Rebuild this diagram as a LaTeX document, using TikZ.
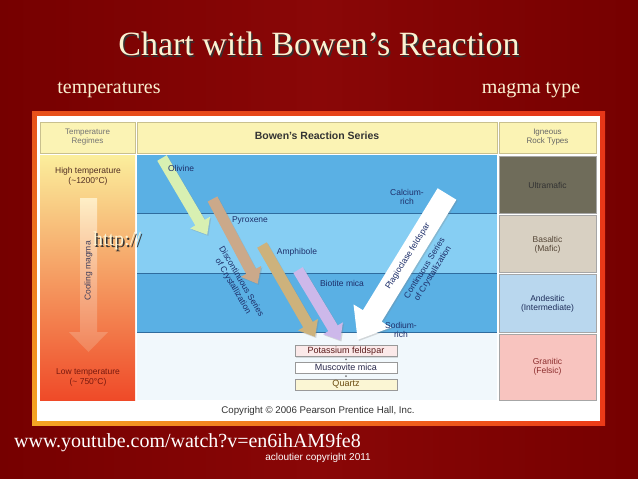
\documentclass[tikz,border=0pt]{standalone}
\usepackage{fontspec}
\setmainfont{Liberation Serif}
\setsansfont{Liberation Sans}
\usetikzlibrary{shadows,shadings}
\definecolor{bgA}{HTML}{760000}
\definecolor{bgB}{HTML}{8A0707}
\definecolor{cream}{HTML}{FBF2D2}
\definecolor{hdrY}{HTML}{FBF3B4}
\definecolor{hdrL}{HTML}{C9C08E}
\definecolor{blueA}{HTML}{5AB0E4}
\definecolor{blueB}{HTML}{86CEF3}
\definecolor{paleB}{HTML}{F1F8FC}
\definecolor{rowL}{HTML}{2F6C9E}
\definecolor{navy}{HTML}{1E2F6A}
\definecolor{olivc}{HTML}{D8F0B2}
\definecolor{pyroc}{HTML}{CBA98A}
\definecolor{amphc}{HTML}{CDB27C}
\definecolor{biotc}{HTML}{CDB8EA}
\definecolor{ultc}{HTML}{6F6C5A}
\definecolor{basc}{HTML}{D8D0C2}
\definecolor{andc}{HTML}{B9D7EE}
\definecolor{grac}{HTML}{F8C4BF}
\definecolor{kfc}{HTML}{FBE9E9}
\definecolor{qzc}{HTML}{FBF6D4}
\definecolor{frUL}{HTML}{E8501A}
\definecolor{frUR}{HTML}{E63618}
\definecolor{frLL}{HTML}{F5A623}
\definecolor{frLR}{HTML}{EC3A18}
\definecolor{tcTop}{HTML}{FBEE9C}
\definecolor{tcMid}{HTML}{F7B55C}
\definecolor{tcBot}{HTML}{EF4A28}
\definecolor{coolTop}{HTML}{FFF2CD}
\definecolor{coolBot}{HTML}{F2875F}
\definecolor{hiTc}{HTML}{502D23}
\definecolor{loTc}{HTML}{78190F}
\definecolor{coolTc}{HTML}{3C3C5A}
\definecolor{basT}{HTML}{554637}
\definecolor{andT}{HTML}{1E2D5A}
\definecolor{graT}{HTML}{8C2D2D}
\definecolor{kfT}{HTML}{5A1919}
\definecolor{mmT}{HTML}{28284B}
\definecolor{qzT}{HTML}{694B0F}
\tikzset{
  lbl/.style={font=\sffamily\fontsize{8.5}{9.5}\selectfont, text=navy, inner sep=0pt, align=center},
  hdrcell/.style={draw=hdrL, line width=0.6pt, fill=hdrY},
  hdrtxt/.style={font=\sffamily\fontsize{8}{9}\selectfont, text=#1, align=center, inner sep=0pt},
  rockcell/.style={draw=black!35, line width=0.6pt, fill=#1},
  rowline/.style={draw=rowL, line width=0.8pt},
  fatshadow/.style={drop shadow={opacity=0.28, shadow xshift=1.2pt, shadow yshift=-1.2pt}},
  mbox/.style={draw=black!40, line width=0.6pt, fill=#1, minimum width=102pt, minimum height=11pt, inner sep=0pt,
    font=\sffamily\fontsize{9}{10}\selectfont, drop shadow={opacity=0.25, shadow xshift=1pt, shadow yshift=-1pt}},
  sertxt/.style={font=\fontsize{#1}{#1}\selectfont, text=cream, inner sep=0pt},
  shadowtxt/.style={font=\fontsize{#1}{#1}\selectfont, text=black!80, inner sep=0pt},
  dotn/.style={circle, fill=black!55, inner sep=0pt, minimum size=2pt}
}
% #1 colour, #2 #3 tail point, #4 angle, #5 length, #6 half shaft, #7 half head, #8 head length
\newcommand\myfatarrow[8]{%
  \begin{scope}[shift={(#2,#3)}, rotate=#4]
    \fill[#1, fatshadow] (0,-#6) -- (#5-#8,-#6) -- (#5-#8,-#7) -- (#5,0) -- (#5-#8,#7) -- (#5-#8,#6) -- (0,#6) -- cycle;
  \end{scope}}
\begin{document}
\begin{tikzpicture}[x=1pt,y=-1pt]
\useasboundingbox (0,0) rectangle (638,479);
% background
\shade[left color=bgA, right color=bgA, middle color=bgB] (0,0) rectangle (638,479);
% orange frame and white panel
\shade[upper left=frUL, upper right=frUR, lower left=frLL, lower right=frLR] (32,111) rectangle (605,425);
\fill[white] (37,116) rectangle (600,421);
% header row
\draw[hdrcell] (40,122) rectangle (135,153);
\draw[hdrcell] (137,122) rectangle (497,153);
\draw[hdrcell] (499,122) rectangle (596,153);
\node[hdrtxt=black!55] (hT) at (87.5,137.5) {Temperature\\Regimes};
\node[hdrtxt=black!80, font=\sffamily\bfseries\fontsize{10.5}{12}\selectfont] (hB) at (317,135.5) {Bowen's Reaction Series};
\node[hdrtxt=black!60] (hI) at (547.5,137.5) {Igneous\\Rock Types};
% left temperature column
\shade[top color=tcTop, middle color=tcMid, bottom color=tcBot] (40,155) rectangle (135,400);
\node[hdrtxt=hiTc, font=\sffamily\fontsize{8.5}{9.5}\selectfont] (hiT) at (88,176.5) {High temperature\\(\textasciitilde1200°C)};
\node[hdrtxt=loTc, font=\sffamily\fontsize{8.5}{9.5}\selectfont] (loT) at (88,377.5) {Low temperature\\(\textasciitilde\ 750°C)};
\shade[top color=coolTop, bottom color=coolBot, opacity=0.9]
  (80,198) -- (97,198) -- (97,332) -- (108,332) -- (88.5,352) -- (69,332) -- (80,332) -- cycle;
\node[hdrtxt=coolTc, font=\sffamily\fontsize{8.5}{9.5}\selectfont, rotate=90] (cool) at (88.5,271) {Cooling magma};
% middle rows
\fill[blueA] (137,155) rectangle (497,213);
\fill[blueB] (137,213) rectangle (497,273);
\fill[blueA] (137,273) rectangle (497,332);
\fill[paleB] (137,332) rectangle (497,400);
\draw[rowline] (137,213) -- (497,213);
\draw[rowline] (137,273) -- (497,273);
\draw[rowline] (137,332) -- (497,332);
% right rock type column
\draw[rockcell=ultc] (499,156) rectangle (596,213);
\draw[rockcell=basc] (499,215) rectangle (596,272);
\draw[rockcell=andc] (499,274) rectangle (596,332);
\draw[rockcell=grac] (499,334) rectangle (596,400);
\node[hdrtxt=black!80, font=\sffamily\fontsize{8.5}{9.5}\selectfont] (rU) at (547.5,185) {Ultramafic};
\node[hdrtxt=basT, font=\sffamily\fontsize{8.5}{9.5}\selectfont] (rB) at (547.5,245) {Basaltic\\(Mafic)};
\node[hdrtxt=andT, font=\sffamily\fontsize{8.5}{9.5}\selectfont] (rA) at (547.5,304) {Andesitic\\(Intermediate)};
\node[hdrtxt=graT, font=\sffamily\fontsize{8.5}{9.5}\selectfont] (rG) at (547.5,367) {Granitic\\(Felsic)};
% discontinuous series arrows
\myfatarrow{olivc}{162}{158}{-59.5}{89}{5.5}{11.5}{14}
\myfatarrow{pyroc}{212.5}{199}{-62}{96}{5.5}{11.5}{14}
\myfatarrow{amphc}{262}{245}{-60}{106}{5.5}{11.5}{14}
\myfatarrow{biotc}{298}{270}{-59}{82}{5.5}{11.5}{14}
% continuous series arrow
\myfatarrow{white}{447}{194}{-121.5}{171}{11}{22}{28}
% labels
\node[lbl] (lO) at (181,168) {Olivine};
\node[lbl] (lP) at (250,220) {Pyroxene};
\node[lbl] (lA) at (297,252) {Amphibole};
\node[lbl] (lB) at (342,283) {Biotite mica};
\node[lbl] (lCa) at (407,197) {Calcium-\\rich};
\node[lbl] (lNa) at (401,330) {Sodium-\\rich};
\node[lbl, rotate=58] (lPl) at (408,256.5) {Plagioclase feldspar};
\node[lbl, rotate=58] (lCS) at (429,271) {Continuous Series\\of Crystallization};
\node[lbl, rotate=-59.5] (lDS) at (237,284) {Discontinuous Series\\of Crystallization};
% final minerals
\node[mbox=kfc, text=kfT] (kf) at (346,351) {Potassium feldspar};
\node[mbox=white, text=mmT] (mm) at (346,367.5) {Muscovite mica};
\node[mbox=qzc, text=qzT] (qz) at (346,384.5) {Quartz};
\path (kf.south) -- node[dotn] (d1) {} (mm.north);
\path (mm.south) -- node[dotn] (d2) {} (qz.north);
% copyright
\node[font=\sffamily\fontsize{9.7}{11}\selectfont, text=black!80, inner sep=0pt] (cp) at (318,411) {Copyright © 2006 Pearson Prentice Hall, Inc.};
% slide texts
\node[shadowtxt=34] (ttS) at (320.5,45.5) {Chart with Bowen’s Reaction};
\node[sertxt=34] (tt) at (319,44) {Chart with Bowen’s Reaction};
\node[sertxt=20] (tmp) at (109,90) {temperatures};
\node[sertxt=20] (mgt) at (531,90) {magma type};
\node[shadowtxt=20] (htS) at (118.5,242.5) {http://};
\node[sertxt=20] (ht) at (117,241) {http://};
\node[sertxt=20, text=white, anchor=west] (yt) at (14,443) {www.youtube.com/watch?v=en6ihAM9fe8};
\node[font=\sffamily\fontsize{10}{11}\selectfont, text=white, inner sep=0pt] (acl) at (318,458) {acloutier copyright 2011};
\end{tikzpicture}
\end{document}
